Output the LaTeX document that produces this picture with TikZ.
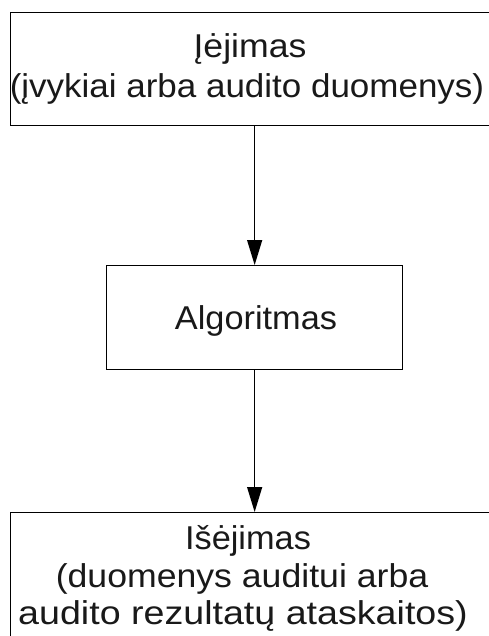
\documentclass[tikz,border=0pt]{standalone}
\usepackage{graphicx}
\usepackage{fontspec}
\setmainfont{Liberation Sans}
\usetikzlibrary{arrows.meta}
% a line of text, widened horizontally by the given factor
\newcommand{\wline}[2]{\scalebox{#1}[1]{#2}}
\begin{document}
\begin{tikzpicture}[x=1pt,y=-1pt,
    box/.style={draw=black, line width=1.3pt, fill=none, inner sep=0pt},
    txt/.style={anchor=base, inner sep=0pt, font=\fontsize{33}{40}\selectfont, text=black!90},
    arr/.style={draw=black, line width=1.3pt, -{Triangle[length=25pt,width=15pt]}}]
  \useasboundingbox (0,0) rectangle (489,636);
  \clip (0,0) rectangle (489,636);
  \fill[white] (0,0) rectangle (489,636);

  % boxes
  \node[box, anchor=north west, minimum width=540pt, minimum height=113pt] (in) at (10,12) {};
  \node[box, anchor=north west, minimum width=296pt, minimum height=104pt] (alg) at (106,265) {};
  \node[box, anchor=north west, minimum width=540pt, minimum height=200pt] (out) at (10,512) {};

  % labels
  \node[txt] (in1) at (250,58) {\wline{1.08}{Įėjimas}};
  \node[txt] (in2) at (247,98) {\wline{1.06}{(įvykiai arba audito duomenys)}};
  \node[txt] (alg1) at (256,329) {\wline{1.04}{Algoritmas}};
  \node[txt] (out1) at (248,549) {\wline{1.04}{Išėjimas}};
  \node[txt] (out2) at (242,587) {\wline{1.08}{(duomenys auditui arba}};
  \node[txt] (out3) at (243,624) {\wline{1.14}{audito rezultatų ataskaitos)}};

  % connectors
  \draw[arr] (alg.north |- in.south) -- (alg.north);
  \draw[arr] (alg.south) -- (alg.south |- out.north);
\end{tikzpicture}
\end{document}
